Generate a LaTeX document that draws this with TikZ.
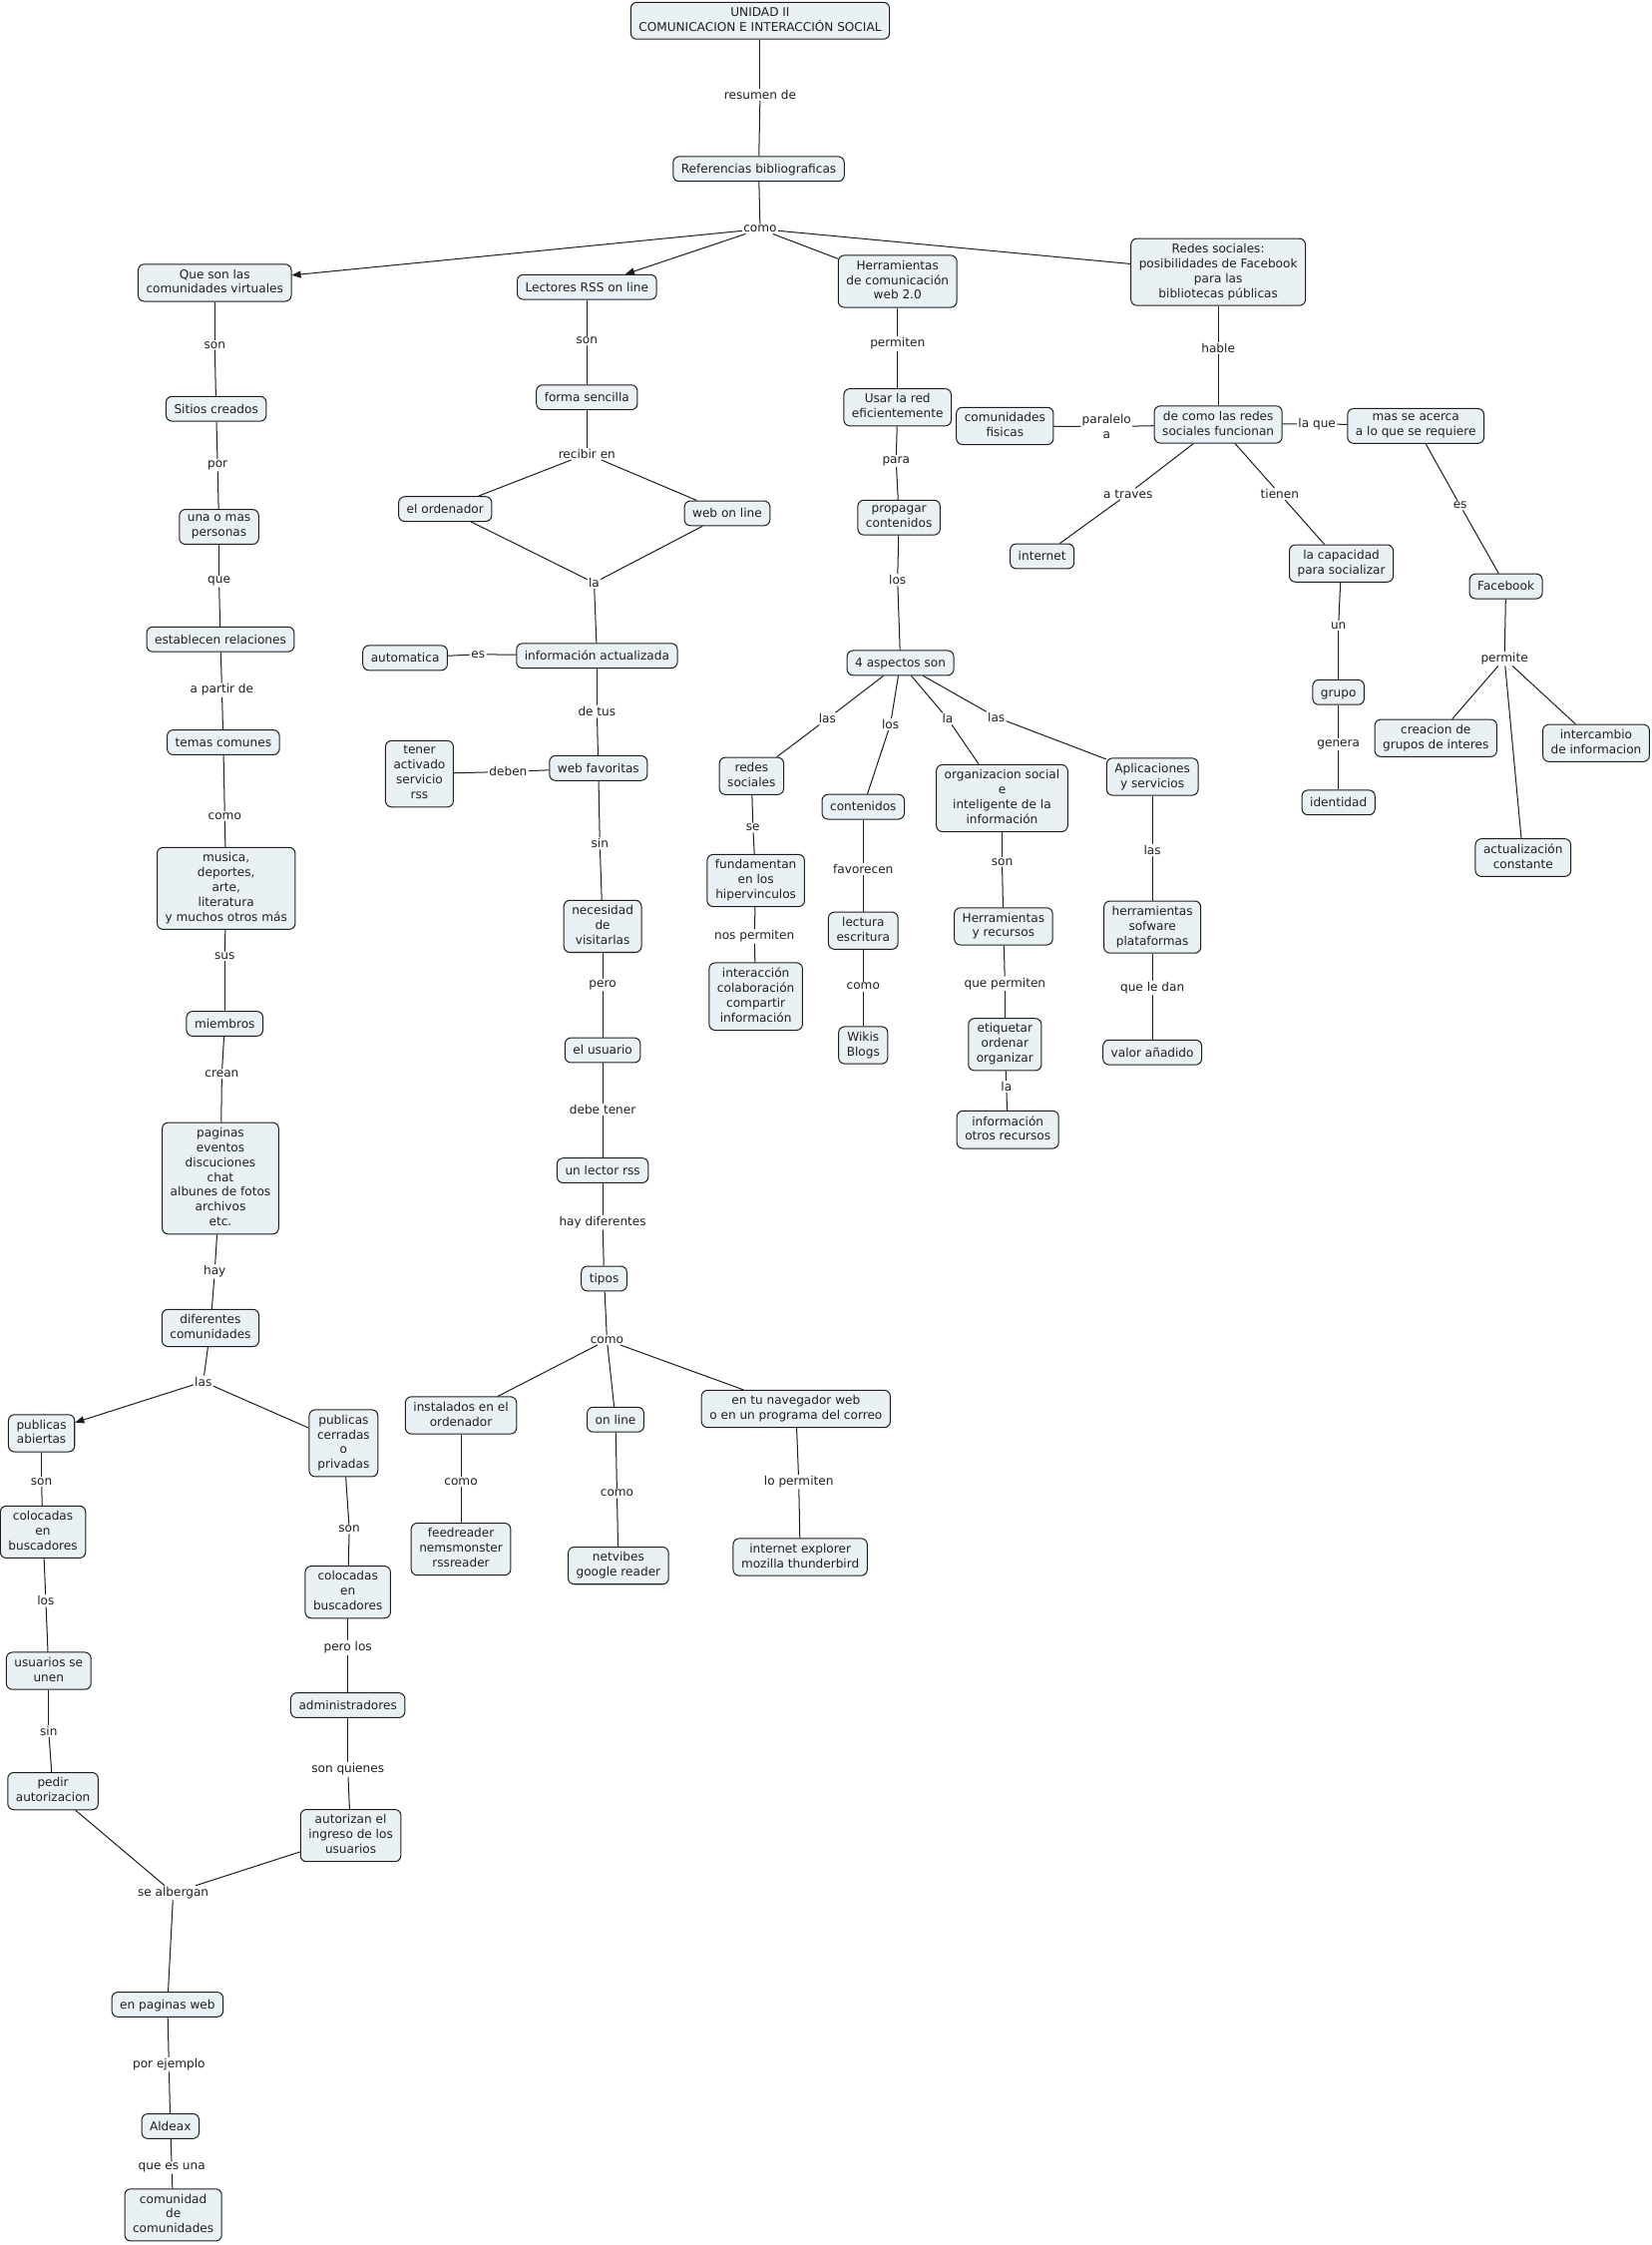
\documentclass[tikz,border=0pt]{standalone}
\usepackage{fontspec}
\setmainfont{DejaVu Sans}
\usepackage{xcolor}
\definecolor{cajafondo}{HTML}{EAF1F4}
\definecolor{trazo}{HTML}{1E1E1E}
\usetikzlibrary{arrows.meta}
\newcommand{\puntal}{\rule[-3pt]{0pt}{14.6pt}}

\begin{document}
\begin{tikzpicture}[x=0.05cm, y=-0.05cm,
  every node/.style={font=\fontsize{12}{14.8}\selectfont, text=black!88},
  concepto/.style={draw=trazo, line width=1pt, fill=cajafondo, rounded corners=6pt, align=center,
    inner xsep=8pt, inner ysep=5pt, execute at begin node=\puntal, execute at end node=\puntal},
  enlace/.style={inner sep=1.2pt, align=center},
  linea/.style={draw=trazo, line width=1pt},
  flecha/.style={linea, -{Triangle[length=9pt,width=7pt]}}]
\useasboundingbox (0,0) rectangle (1154,1568);
% cabecera
\node[concepto] (tit) at (531,14.5) {UNIDAD II\\COMUNICACION E INTERACCIÓN SOCIAL};
\node[enlace] (lresumen) at (531,66) {resumen de};
\node[concepto] (ref) at (530,118) {Referencias bibliograficas};
\node[enlace] (lcomo) at (531,160) {como};
\node[concepto] (qsc) at (150,197.5) {Que son las\\comunidades virtuales};
\node[concepto] (rss) at (410,200.5) {Lectores RSS on line};
\node[concepto] (herr) at (627,196.5) {Herramientas\\de comunicación\\web 2.0};
\node[concepto] (redes) at (851,190) {Redes sociales:\\posibilidades de Facebook\\para las\\bibliotecas públicas};
% comunidades virtuales
\node[enlace] (lson1) at (150,241) {son};
\node[concepto] (sitios) at (151,285.5) {Sitios creados};
\node[enlace] (lpor) at (152,325) {por};
\node[concepto] (personas) at (153,368) {una o mas\\personas};
\node[enlace] (lque) at (153,406) {que};
\node[concepto] (relac) at (154,446.5) {establecen relaciones};
\node[enlace] (lapartir) at (155,482) {a partir de};
\node[concepto] (temas) at (156,518.5) {temas comunes};
\node[enlace] (lcomo2) at (157,570) {como};
\node[concepto] (musica) at (158,620.5) {musica,\\deportes,\\arte,\\literatura\\y muchos otros más};
\node[enlace] (lsus) at (157,668) {sus};
\node[concepto] (miembros) at (157,715) {miembros};
\node[enlace] (lcrean) at (155,750) {crean};
\node[concepto] (paginas) at (154,823) {paginas\\eventos\\discuciones\\chat\\albunes de fotos\\archivos\\etc.};
\node[enlace] (lhay) at (150,888) {hay};
\node[concepto] (difcom) at (147,927.5) {diferentes\\comunidades};
\node[enlace] (llas) at (142,965) {las};
\node[concepto] (pubab) at (29,1001) {publicas\\abiertas};
\node[concepto] (pubce) at (240,1008) {publicas\\cerradas\\o\\privadas};
\node[enlace] (lson2) at (29,1035) {son};
\node[concepto] (coloc1) at (30,1070) {colocadas\\en\\buscadores};
\node[enlace] (llos1) at (32,1118) {los};
\node[concepto] (usuarios) at (34,1167) {usuarios se\\unen};
\node[enlace] (lsin1) at (34,1209) {sin};
\node[concepto] (pedir) at (37,1251) {pedir\\autorizacion};
\node[enlace] (lson3) at (244,1068) {son};
\node[concepto] (coloc2) at (243,1112) {colocadas\\en\\buscadores};
\node[enlace] (lperolos) at (243,1151) {pero los};
\node[concepto] (admin) at (243,1191) {administradores};
\node[enlace] (lsonquienes) at (243,1236) {son quienes};
\node[concepto] (autorizan) at (245,1282) {autorizan el\\ingreso de los\\usuarios};
\node[enlace] (lalbergan) at (121,1322) {se albergan};
\node[concepto] (enpag) at (117,1400) {en paginas web};
\node[enlace] (lporej) at (118,1442) {por ejemplo};
\node[concepto] (aldeax) at (119,1485) {Aldeax};
\node[enlace] (lquees) at (120,1514) {que es una};
\node[concepto] (comdecom) at (121,1547) {comunidad\\de\\comunidades};
% lectores rss
\node[enlace] (lson4) at (410,238) {son};
\node[concepto] (forma) at (410,277.5) {forma sencilla};
\node[enlace] (lrecibir) at (410,317) {recibir en};
\node[concepto] (ordenador) at (311,355.5) {el ordenador};
\node[concepto] (webonline) at (508,358.5) {web on line};
\node[enlace] (lla1) at (415,407) {la};
\node[concepto] (infoact) at (417,458) {información actualizada};
\node[enlace] (les1) at (334,457) {es};
\node[concepto] (automatica) at (283,459.5) {automatica};
\node[enlace] (ldetus) at (417,497) {de tus};
\node[concepto] (webfav) at (418,536.5) {web favoritas};
\node[enlace] (ldeben) at (355,539) {deben};
\node[concepto] (tener) at (293,540.5) {tener\\activado\\servicio\\rss};
\node[enlace] (lsin2) at (419,589) {sin};
\node[concepto] (necesidad) at (421,647) {necesidad\\de\\visitarlas};
\node[enlace] (lpero) at (421,688) {pero};
\node[concepto] (usuario) at (421,733.5) {el usuario};
\node[enlace] (ldebe) at (421,775) {debe tener};
\node[concepto] (lector) at (421,817.5) {un lector rss};
\node[enlace] (lhaydif) at (421,854) {hay diferentes};
\node[concepto] (tipos) at (422,893) {tipos};
\node[enlace] (lcomo3) at (424,936) {como};
\node[concepto] (instalados) at (322,988.5) {instalados en el\\ordenador};
\node[concepto] (online) at (430,991.5) {on line};
\node[concepto] (navegador) at (556,984) {en tu navegador web\\o en un programa del correo};
\node[enlace] (lcomo4) at (322,1035) {como};
\node[concepto] (feedreader) at (322,1082) {feedreader\\nemsmonster\\rssreader};
\node[enlace] (lcomo5) at (431,1043) {como};
\node[concepto] (netvibes) at (432,1093.5) {netvibes\\google reader};
\node[enlace] (lpermiten1) at (558,1035) {lo permiten};
\node[concepto] (explorer) at (559,1087.5) {internet explorer\\mozilla thunderbird};
% herramientas web 2.0
\node[enlace] (lpermiten2) at (627,240) {permiten};
\node[concepto] (usar) at (627,284.5) {Usar la red\\eficientemente};
\node[enlace] (lpara) at (626,322) {para};
\node[concepto] (propagar) at (628,361.5) {propagar\\contenidos};
\node[enlace] (llos2) at (627,405) {los};
\node[concepto] (aspectos) at (629,463) {4 aspectos son};
\node[enlace] (llas2) at (578,502) {las};
\node[enlace] (llos3) at (622,506) {los};
\node[enlace] (lla2) at (662,502) {la};
\node[enlace] (llas3) at (696,501) {las};
\node[concepto] (redsoc) at (525,542) {redes\\sociales};
\node[concepto] (contenidos) at (603,563.5) {contenidos};
\node[concepto] (organiz) at (700,557.5) {organizacion social\\e\\inteligente de la\\información};
\node[concepto] (aplic) at (805,542.5) {Aplicaciones\\y servicios};
\node[enlace] (lse) at (526,578) {se};
\node[concepto] (fundam) at (528,615) {fundamentan\\en los\\hipervinculos};
\node[enlace] (lnos) at (527,654) {nos permiten};
\node[concepto] (interac) at (528,696) {interacción\\colaboración\\compartir\\información};
\node[enlace] (lfavor) at (603,607) {favorecen};
\node[concepto] (lectura) at (603,650) {lectura\\escritura};
\node[enlace] (lcomo6) at (603,689) {como};
\node[concepto] (wikis) at (603,730) {Wikis\\Blogs};
\node[enlace] (lson5) at (700,602) {son};
\node[concepto] (herrec) at (701,647) {Herramientas\\y recursos};
\node[enlace] (lquepermiten) at (702,687) {que permiten};
\node[concepto] (etiquetar) at (702,729.5) {etiquetar\\ordenar\\organizar};
\node[enlace] (lla3) at (703,759) {la};
\node[concepto] (inforec) at (704,789) {información\\otros recursos};
\node[enlace] (llas4) at (805,594) {las};
\node[concepto] (herrsof) at (805,647.5) {herramientas\\sofware\\plataformas};
\node[enlace] (lquele) at (805,690) {que le dan};
\node[concepto] (valor) at (805,735) {valor añadido};
% redes sociales
\node[enlace] (lhable) at (851,243) {hable};
\node[concepto] (decomo) at (851,296.5) {de como las redes\\sociales funcionan};
\node[enlace] (lparalelo) at (773,298) {paralelo\\a};
\node[concepto] (comfis) at (702,297.5) {comunidades\\fisicas};
\node[enlace] (llaque) at (920,296) {la que};
\node[concepto] (masacerca) at (989,297.5) {mas se acerca\\a lo que se requiere};
\node[enlace] (latraves) at (788,345) {a traves};
\node[enlace] (ltienen) at (894,345) {tienen};
\node[concepto] (internet) at (728,388.5) {internet};
\node[concepto] (capacidad) at (937,393.5) {la capacidad\\para socializar};
\node[enlace] (lun) at (935,437) {un};
\node[concepto] (grupo) at (935,483.5) {grupo};
\node[enlace] (lgenera) at (935,520) {genera};
\node[concepto] (identidad) at (935,560.5) {identidad};
\node[enlace] (les2) at (1020,353) {es};
\node[concepto] (facebook) at (1052,409.5) {Facebook};
\node[enlace] (lpermite) at (1051,460) {permite};
\node[concepto] (creacion) at (1003,515.5) {creacion de\\grupos de interes};
\node[concepto] (intercambio) at (1115,519) {intercambio\\de informacion};
\node[concepto] (actualiz) at (1064,599) {actualización\\constante};
% conexiones
\foreach \a/\b in {tit/lresumen, lresumen/ref, ref/lcomo, lcomo/herr, lcomo/redes,
  qsc/lson1, lson1/sitios, sitios/lpor, lpor/personas, personas/lque, lque/relac,
  relac/lapartir, lapartir/temas, temas/lcomo2, lcomo2/musica, musica/lsus, lsus/miembros,
  miembros/lcrean, lcrean/paginas, paginas/lhay, lhay/difcom, difcom/llas, llas/pubce,
  pubab/lson2, lson2/coloc1, coloc1/llos1, llos1/usuarios, usuarios/lsin1, lsin1/pedir,
  pedir/lalbergan, pubce/lson3, lson3/coloc2, coloc2/lperolos, lperolos/admin,
  admin/lsonquienes, lsonquienes/autorizan, autorizan/lalbergan, lalbergan/enpag,
  enpag/lporej, lporej/aldeax, aldeax/lquees, lquees/comdecom}
  \draw[linea] (\a) -- (\b);
\foreach \a/\b in {rss/lson4, lson4/forma, forma/lrecibir, lrecibir/ordenador,
  lrecibir/webonline, ordenador/lla1, webonline/lla1, lla1/infoact, infoact/les1,
  les1/automatica, infoact/ldetus, ldetus/webfav, webfav/ldeben, ldeben/tener,
  webfav/lsin2, lsin2/necesidad, necesidad/lpero, lpero/usuario, usuario/ldebe,
  ldebe/lector, lector/lhaydif, lhaydif/tipos, tipos/lcomo3, lcomo3/instalados,
  lcomo3/online, lcomo3/navegador, instalados/lcomo4, lcomo4/feedreader,
  online/lcomo5, lcomo5/netvibes, navegador/lpermiten1, lpermiten1/explorer}
  \draw[linea] (\a) -- (\b);
\foreach \a/\b in {herr/lpermiten2, lpermiten2/usar, usar/lpara, lpara/propagar,
  propagar/llos2, llos2/aspectos, aspectos/llas2, llas2/redsoc, aspectos/llos3,
  llos3/contenidos, aspectos/lla2, lla2/organiz, aspectos/llas3, llas3/aplic,
  redsoc/lse, lse/fundam, fundam/lnos, lnos/interac, contenidos/lfavor, lfavor/lectura,
  lectura/lcomo6, lcomo6/wikis, organiz/lson5, lson5/herrec, herrec/lquepermiten,
  lquepermiten/etiquetar, etiquetar/lla3, lla3/inforec, aplic/llas4, llas4/herrsof,
  herrsof/lquele, lquele/valor}
  \draw[linea] (\a) -- (\b);
\foreach \a/\b in {redes/lhable, lhable/decomo, decomo/lparalelo, lparalelo/comfis,
  decomo/llaque, llaque/masacerca, decomo/latraves, latraves/internet, decomo/ltienen,
  ltienen/capacidad, capacidad/lun, lun/grupo, grupo/lgenera, lgenera/identidad,
  masacerca/les2, les2/facebook, facebook/lpermite, lpermite/creacion,
  lpermite/intercambio, lpermite/actualiz}
  \draw[linea] (\a) -- (\b);
% flechas
\draw[flecha] (lcomo) -- (qsc);
\draw[flecha] (lcomo) -- (rss);
\draw[flecha] (llas) -- (pubab);
\end{tikzpicture}
\end{document}
